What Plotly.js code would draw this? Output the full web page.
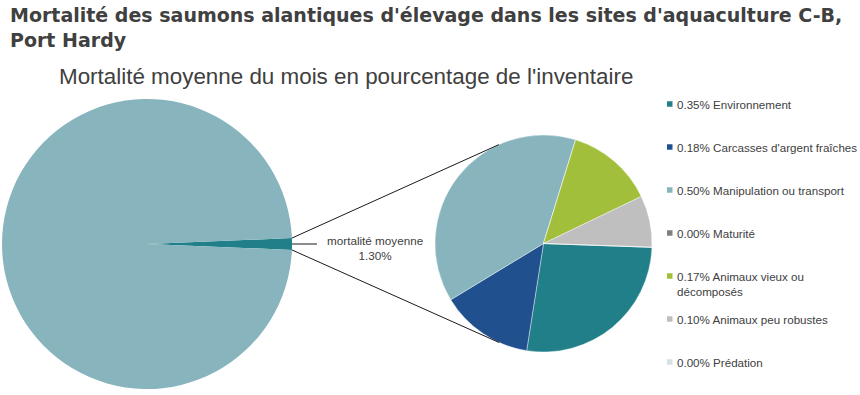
<!DOCTYPE html>
<html><head><meta charset="utf-8">
<script src="https://cdn.plot.ly/plotly-3.0.1.min.js"></script>
<style>body{margin:0;background:#fff}</style>
</head><body><div id="chart" style="width:860px;height:395px"></div>
<script>
// ---- data ----
const categories = ['Environnement', "Carcasses d'argent fraîches", 'Manipulation ou transport', 'Maturité', 'Animaux vieux ou<br>décomposés', 'Animaux peu robustes', 'Prédation'];
const values = [0.35, 0.18, 0.50, 0.00, 0.17, 0.10, 0.00];
const colors = ['#207F89', '#21508F', '#88B5BD', '#7F7F7F', '#A1BF3B', '#BFBFBF', '#D5E1E3'];
const overallLabels = ['mortalité moyenne', 'autre inventaire'];
const overallValues = [1.30, 98.70];
const overallColors = ['#207F89', '#88B5BD'];
const titleText = 'Mortalité des saumons alantiques d\'élevage dans les sites d\'aquaculture C-B,<br>Port Hardy';
const subtitleText = 'Mortalité moyenne du mois en pourcentage de l\'inventaire';

// ---- geometry (pixels) ----
const W = 860, H = 395;
const big = {cx: 147, cy: 244, r: 145};
const small = {cx: 543.5, cy: 243.5, r: 108.5};
const px = x => x / W;
const py = y => (H - y) / H;
const dom = c => ({x: [px(c.cx - c.r), px(c.cx + c.r)], y: [py(c.cy + c.r), py(c.cy - c.r)]});

const txt = '#404040';
const font = 'Liberation Sans, Arial, sans-serif';

const smallShare = overallValues[0] / (overallValues[0] + overallValues[1]);
const bigRotation = 90 - smallShare * 360 / 2;

const traces = [
  {type: 'pie', values: overallValues, labels: overallLabels, marker: {colors: overallColors, line: {width: 0}},
   sort: false, direction: 'clockwise', rotation: bigRotation, textinfo: 'none', domain: dom(big), showlegend: false},
  {type: 'pie', values: values, labels: categories, marker: {colors: colors, line: {color: '#ffffff', width: 0.4}},
   sort: false, direction: 'clockwise', rotation: 92, textinfo: 'none', domain: dom(small), showlegend: false}
];

// connector lines: from big-slice edges tangent to small pie
const half = smallShare * Math.PI;
const shapes = [];
const annotations = [];
[-1, 1].forEach(s => {
  const sx = big.cx + big.r * Math.cos(half), sy = big.cy + s * big.r * Math.sin(half);
  const dx = sx - small.cx, dy = sy - small.cy;
  const d = Math.hypot(dx, dy);
  const base = Math.atan2(dy, dx);
  const a = base - s * Math.acos(small.r / d);
  const tx = small.cx + small.r * Math.cos(a), ty = small.cy + small.r * Math.sin(a);
  shapes.push({type: 'line', xref: 'paper', yref: 'paper', x0: px(sx), y0: py(sy), x1: px(tx), y1: py(ty), line: {color: '#1a1a1a', width: 1}});
});
shapes.push({type: 'line', xref: 'paper', yref: 'paper', x0: px(big.cx + big.r), y0: py(big.cy), x1: px(317), y1: py(big.cy), line: {color: '#1a1a1a', width: 1}});

annotations.push({xref: 'paper', yref: 'paper', x: px(375), y: py(247.5), xanchor: 'center', yanchor: 'middle', showarrow: false,
  text: overallLabels[0] + '<br>' + overallValues[0].toFixed(2) + '%', font: {family: font, size: 11.7, color: txt}});

annotations.push({xref: 'paper', yref: 'paper', x: px(345.5), y: py(76), xanchor: 'center', yanchor: 'middle', showarrow: false,
  text: subtitleText, font: {family: font, size: 22.4, color: txt}});

// title
annotations.push({xref: 'paper', yref: 'paper', x: px(8), y: py(1.5), xanchor: 'left', yanchor: 'top', align: 'left', showarrow: false,
  text: '<b>' + titleText + '</b>', font: {family: 'DejaVu Sans, sans-serif', size: 19, color: txt}});

// legend
categories.forEach((c, i) => {
  const yc = 104 + 43 * i;
  shapes.push({type: 'rect', xref: 'paper', yref: 'paper', x0: px(667), x1: px(672.5), y0: py(yc + 2.75), y1: py(yc - 2.75), fillcolor: colors[i], line: {width: 0}});
  annotations.push({xref: 'paper', yref: 'paper', x: px(675), y: py(yc - 8), xanchor: 'left', yanchor: 'top', align: 'left', showarrow: false,
    text: values[i].toFixed(2) + '% ' + c, font: {family: font, size: 11.6, color: txt}});
});

const layout = {
  width: W, height: H,
  margin: {l: 0, r: 0, t: 0, b: 0},
  paper_bgcolor: '#fff',
  shapes: shapes,
  annotations: annotations,
  showlegend: false
};
Plotly.newPlot('chart', traces, layout, {displayModeBar: false, staticPlot: true});
</script></body></html>
